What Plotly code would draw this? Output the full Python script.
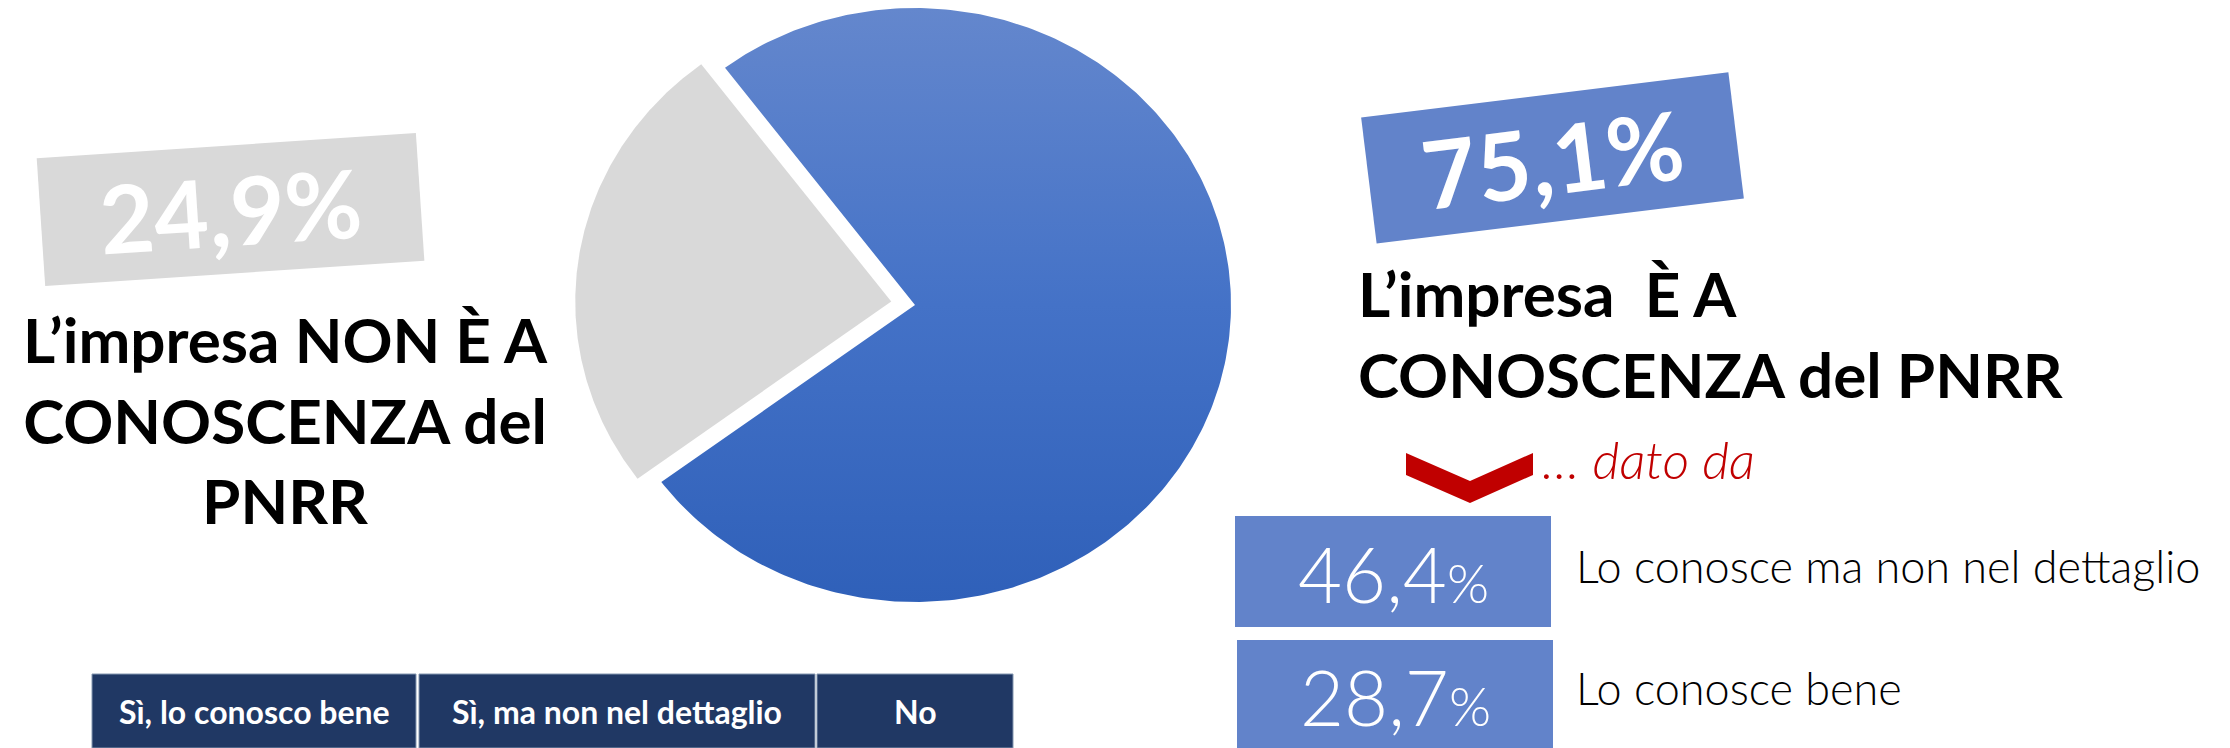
import numpy as np
import plotly.graph_objects as go

# Survey answers: does the company know the PNRR?
categories = ["Sì, lo conosco bene", "Sì, ma non nel dettaglio", "No"]
shares = [28.7, 46.4, 24.9]

# Breakdown of the "yes" answers shown on the right
detail_labels = ["Lo conosce ma non nel dettaglio", "Lo conosce bene"]
detail_values = [46.4, 28.7]

known_total = round(shares[0] + shares[1], 1)
unknown_total = shares[2]

W, H = 2230, 748
BLUE_TAG = "#6283ca"
GREY = "#d9d9d9"
NAVY = "#203864"
RED = "#c00000"
FONT = "Lato"


def fmt(v):
    return f"{v:.1f}".replace(".", ",") + "%"


# ---- elliptical pie drawn on pixel-like axes ----
cx, cy, rx, ry = 915, 305, 316, 297
start_deg = 126.6      # where the first slice begins, ccw from 12 o'clock
pull_px = 24           # offset of the detached slice


def wedge(a0, a1, pull=0.0, n=300):
    mid = np.radians((a0 + a1) / 2)
    ox, oy = cx - pull * np.sin(mid), cy - pull * np.cos(mid)
    t = np.radians(np.linspace(a0, a1, n))
    xs = ox - rx * np.sin(t)
    ys = oy - ry * np.cos(t)
    return (np.concatenate([[ox], xs, [ox]]),
            np.concatenate([[oy], ys, [oy]]))


total = sum(shares)
slices = [
    ("Sì", known_total, dict(fillgradient=dict(
        type="vertical",
        colorscale=[[0, "#6487cd"], [0.5, "#4472c7"], [1, "#2f60b9"]],
        start=cy - ry, stop=cy + ry)), 0),
    ("No", unknown_total, dict(fillcolor=GREY), pull_px),
]

fig = go.Figure()
angle = start_deg
for name, val, fillstyle, pull in slices:
    span = 360 * val / total
    xs, ys = wedge(angle, angle + span, pull)
    fig.add_trace(go.Scatter(
        x=xs, y=ys, mode="lines", fill="toself", name=name,
        line=dict(width=0), hoverinfo="skip", **fillstyle))
    angle += span

annotations = []
shapes = []

# tilted value tags
annotations.append(dict(
    x=230.5, y=209, text=f"<b>{fmt(unknown_total)}</b>", showarrow=False,
    font=dict(family=FONT, size=94, color="white"),
    bgcolor=GREY, width=379, height=127, borderpad=0, textangle=-3.8,
    xanchor="center", yanchor="middle"))
annotations.append(dict(
    x=1552, y=158, text=f"<b>{fmt(known_total)}</b>", showarrow=False,
    font=dict(family=FONT, size=94, color="white"),
    bgcolor=BLUE_TAG, width=369, height=126, borderpad=0, textangle=-7.0,
    xanchor="center", yanchor="middle"))

# headlines
annotations.append(dict(
    x=285, y=419, text="<b>L’impresa NON È A<br>CONOSCENZA del<br>PNRR</b>",
    showarrow=False, align="center", xanchor="center", yanchor="middle",
    font=dict(family=FONT, size=62, color="black")))
annotations.append(dict(
    x=1356, y=333, text="<b>L’impresa \u00a0È A<br>CONOSCENZA del PNRR</b>",
    showarrow=False, align="left", xanchor="left", yanchor="middle",
    font=dict(family=FONT, size=62, color="black")))

# "... dato da" pointer
shapes.append(dict(
    type="path", xref="x", yref="y",
    path="M 1406 453 L 1470 481 L 1533 453 L 1533 475 L 1470 503 L 1406 475 Z",
    fillcolor=RED, line=dict(width=0)))
annotations.append(dict(
    x=1540, y=459, text="<i>… dato da</i>", showarrow=False,
    xanchor="left", yanchor="middle",
    font=dict(family=FONT, size=52, color=RED, weight=300)))

# breakdown boxes
box_rows = [(1235, 1551, 516, 627), (1237, 1553, 640, 748)]
for (x0, x1, y0, y1), lab, val in zip(box_rows, detail_labels, detail_values):
    shapes.append(dict(type="rect", xref="x", yref="y", x0=x0, x1=x1,
                       y0=y0, y1=y1, fillcolor=BLUE_TAG, line=dict(width=0),
                       layer="below"))
    num = f"{val:.1f}".replace(".", ",")
    annotations.append(dict(
        x=(x0 + x1) / 2, y=(y0 + y1) / 2 + 2,
        text=f"{num}<span style='font-size:54px'>%</span>",
        showarrow=False, xanchor="center", yanchor="middle",
        font=dict(family=FONT, size=76, color="white", weight=300)))
    annotations.append(dict(
        x=1574, y=(y0 + y1) / 2 - 6, text=lab, showarrow=False,
        xanchor="left", yanchor="middle",
        font=dict(family=FONT, size=45, color="black", weight=300)))

# header-style category strip
col_edges = [(92, 416), (419, 815), (817, 1013)]
for (x0, x1), cat in zip(col_edges, categories):
    shapes.append(dict(type="rect", xref="x", yref="y", x0=x0, x1=x1,
                       y0=674, y1=748, fillcolor=NAVY,
                       line=dict(width=1, color="#8497b0"), layer="below"))
    annotations.append(dict(
        x=(x0 + x1) / 2, y=711, text=f"<b>{cat}</b>", showarrow=False,
        xanchor="center", yanchor="middle",
        font=dict(family=FONT, size=32, color="white")))

for a in annotations:
    a.setdefault("xref", "x")
    a.setdefault("yref", "y")

fig.update_layout(
    width=W, height=H,
    margin=dict(l=0, r=0, t=0, b=0),
    paper_bgcolor="white", plot_bgcolor="white",
    showlegend=False,
    xaxis=dict(range=[0, W], visible=False, fixedrange=True),
    yaxis=dict(range=[H, 0], visible=False, fixedrange=True),
    annotations=annotations,
    shapes=shapes,
)

fig.write_html("out.html")
